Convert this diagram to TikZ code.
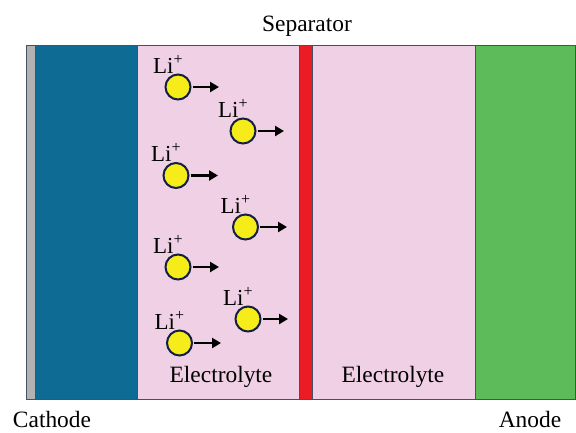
\documentclass[tikz,border=0pt]{standalone}
\usepackage{fontspec}
\setmainfont{Liberation Serif}
\usetikzlibrary{arrows.meta,calc}
\definecolor{collector}{RGB}{178,178,178}
\definecolor{cathodeblue}{RGB}{14,107,148}
\definecolor{electrolyte}{RGB}{240,208,228}
\definecolor{separatorred}{RGB}{236,28,36}
\definecolor{anodegreen}{RGB}{94,187,90}
\definecolor{ionyellow}{RGB}{245,236,26}
\definecolor{ionedge}{RGB}{20,30,70}
\definecolor{edge}{RGB}{70,80,100}
\tikzset{
  layer/.style={draw=edge, line width=0.7bp},
  ion/.style={circle, draw=ionedge, fill=ionyellow, line width=2bp,
              minimum size=25bp, inner sep=0pt},
  ionlabel/.style={anchor=base west, inner sep=0pt, font=\fontsize{23}{27}\selectfont},
  flow/.style={-{Triangle[length=9bp,width=10bp]}, line width=2.8bp, black, shorten <=1bp},
  caption/.style={anchor=base, inner sep=0pt, font=\fontsize{23.5}{28}\selectfont}
}
\begin{document}
\begin{tikzpicture}[x=1bp,y=-1bp]
\useasboundingbox (0,0) rectangle (576,432);
\fill[white] (0,0) rectangle (576,432);
% cell layers, left to right
\fill[collector] (26,45) rectangle (35,399);
\fill[cathodeblue] (35,45) rectangle (137,399);
\fill[electrolyte] (137,45) rectangle (299,399);
\fill[separatorred] (299,45) rectangle (312,399);
\fill[electrolyte] (312,45) rectangle (475,399);
\fill[anodegreen] (475,45) rectangle (575,399);
\draw[layer] (35,45) -- (35,399);
\draw[layer] (137,45) -- (137,399);
\draw[layer] (299,45) -- (299,399);
\draw[layer] (312,45) -- (312,399);
\draw[layer] (475,45) -- (475,399);
\draw[layer] (26,45) rectangle (575,399);
% lithium ions drifting toward the separator
\foreach \n/\x/\y/\tip in {1/178/87/219, 2/243/131/284, 3/176/175.5/218,
                           4/245.5/227/287, 5/178/267/219, 6/248/319/288,
                           7/179.5/343/221}{
  \node[ion] (ion\n) at (\x,\y) {};
  \node[ionlabel] (lab\n) at ($(ion\n)+(-25,-14)$) {Li\textsuperscript{+}};
  \coordinate (tip\n) at (\tip,\y);
  \draw[flow] (ion\n.east) -- (tip\n);
}
% captions
\node[caption] (sep) at (307,31) {Separator};
\node[caption] (elL) at (221,382) {Electrolyte};
\node[caption] (elR) at (393,382) {Electrolyte};
\node[caption] (cat) at (52,427) {Cathode};
\node[caption] (ano) at (530,427) {Anode};
\end{tikzpicture}
\end{document}
